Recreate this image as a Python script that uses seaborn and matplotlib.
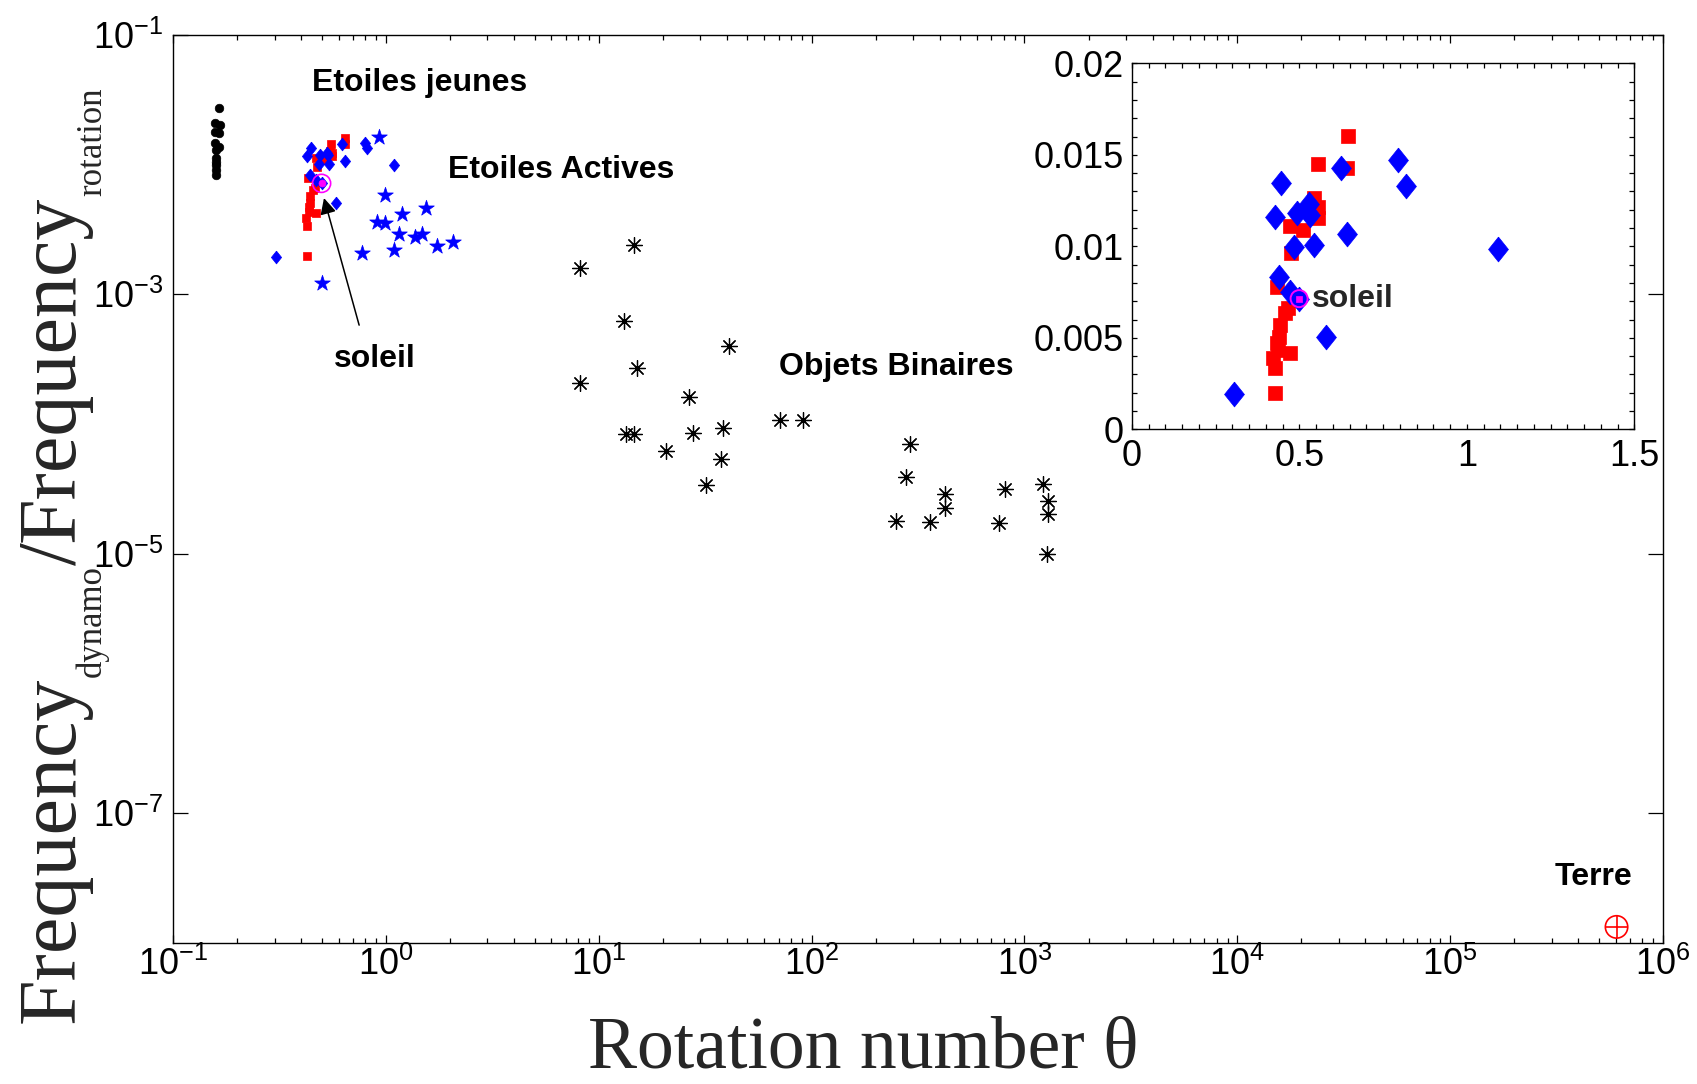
import matplotlib
matplotlib.use("Agg")
import matplotlib.pyplot as plt
import matplotlib.transforms as mtransforms
from matplotlib.ticker import FixedLocator, FixedFormatter, LogLocator, NullLocator, NullFormatter, MultipleLocator
import seaborn as sns

# ---------------------------------------------------------------- data
# Etoiles jeunes (black dots)
jeunes_theta = [0.165, 0.158, 0.166, 0.158, 0.165, 0.158, 0.164, 0.159,
                0.159, 0.159, 0.159, 0.159, 0.159]
jeunes_ratio = [0.0270, 0.0207, 0.0201, 0.0178, 0.0173, 0.0145, 0.0137, 0.0129,
                0.0111, 0.0105, 0.00988, 0.00904, 0.00827]

# Etoiles actives, first sample (red squares)
carres_theta = [0.427, 0.427, 0.422, 0.472, 0.437, 0.434, 0.440, 0.442, 0.457, 0.467,
                0.432, 0.475, 0.472, 0.512, 0.556, 0.556, 0.544, 0.555, 0.641, 0.646]
carres_ratio = [0.00197, 0.00333, 0.00388, 0.00419, 0.00433, 0.00470, 0.00506, 0.00570,
                0.00634, 0.00661, 0.00779, 0.00962, 0.01111, 0.01089, 0.01153, 0.01217,
                0.01266, 0.01448, 0.01430, 0.01604]

# Etoiles actives, second sample (blue diamonds)
losanges_theta = [0.306, 0.427, 0.445, 0.439, 0.472, 0.484, 0.492, 0.529, 0.532, 0.543,
                  0.580, 0.623, 0.643, 0.795, 0.818, 1.093, 0.499]
losanges_ratio = [0.00195, 0.01162, 0.01344, 0.00834, 0.00752, 0.00998, 0.01180, 0.01231,
                  0.01171, 0.01007, 0.00506, 0.01426, 0.01066, 0.01472, 0.01330, 0.00985,
                  0.00714]

# Etoiles actives, third sample (blue stars)
etoiles_theta = [0.927, 0.996, 1.193, 1.536, 0.904, 0.989, 1.151, 1.368, 1.481, 1.730,
                 2.07, 1.094, 0.769, 0.499]
etoiles_ratio = [0.01633, 0.00580, 0.00411, 0.00458, 0.00357, 0.00355, 0.00290, 0.00277,
                 0.00289, 0.00236, 0.00253, 0.00218, 0.00206, 0.00122]

# Objets binaires (black asterisks)
binaires_theta = [14.6, 8.15, 13.1, 40.8, 15.1, 8.21, 26.5, 70.9, 91.3, 13.4, 14.6, 27.8,
                  38.4, 20.6, 37.4, 31.8,
                  289, 279, 423, 423, 250, 359, 814, 757, 1222, 1291, 1291, 1277]
binaires_ratio = [2.39e-3, 1.60e-3, 6.22e-4, 3.97e-4, 2.70e-4, 2.07e-4, 1.61e-4, 1.08e-4,
                  1.08e-4, 8.34e-5, 8.34e-5, 8.53e-5, 9.23e-5, 6.19e-5, 5.32e-5, 3.41e-5,
                  7.06e-5, 3.90e-5, 2.87e-5, 2.26e-5, 1.79e-5, 1.75e-5, 3.14e-5, 1.72e-5,
                  3.47e-5, 2.55e-5, 2.04e-5, 1.00e-5]

# Soleil and Terre
soleil_theta = [0.499]
soleil_ratio = [0.00714]
terre_theta = [6.05e5]
terre_ratio = [1.33e-8]

# Axis ticks
x_ticks = [1e-1, 1e0, 1e1, 1e2, 1e3, 1e4, 1e5, 1e6]
x_ticklabels = [r"$10^{-1}$", r"$10^{0}$", r"$10^{1}$", r"$10^{2}$", r"$10^{3}$",
                r"$10^{4}$", r"$10^{5}$", r"$10^{6}$"]
y_ticks = [1e-7, 1e-5, 1e-3, 1e-1]
y_ticklabels = [r"$10^{-7}$", r"$10^{-5}$", r"$10^{-3}$", r"$10^{-1}$"]
inset_x_ticks = [0, 0.5, 1, 1.5]
inset_x_ticklabels = ["0", "0.5", "1", "1.5"]
inset_y_ticks = [0, 0.005, 0.01, 0.015, 0.02]
inset_y_ticklabels = ["0", "0.005", "0.01", "0.015", "0.02"]

# ---------------------------------------------------------------- style
sns.set_style("ticks")
plt.rcParams["font.family"] = ["Liberation Sans", "DejaVu Sans"]
plt.rcParams["mathtext.fontset"] = "custom"
plt.rcParams["mathtext.rm"] = "Liberation Sans"
plt.rcParams["mathtext.it"] = "Liberation Sans:italic"
plt.rcParams["mathtext.bf"] = "Liberation Sans:bold"

W, H = 1697, 1084
fig = plt.figure(figsize=(W / 100, H / 100), dpi=100)
fig.patch.set_facecolor("white")

ax = fig.add_axes([173 / W, 1 - 943 / H, (1663 - 173) / W, (943 - 34.6) / H])
ax.set_xscale("log")
ax.set_yscale("log")

DIAMOND = [(0, 1), (0.8, 0), (0, -1), (-0.8, 0), (0, 1)]
TICK_FS = 26
LABEL_FS = 23

# ---------------------------------------------------------------- main axes
sns.scatterplot(x=jeunes_theta, y=jeunes_ratio, marker="o", s=38, color="black",
                edgecolor="black", linewidth=0.5, ax=ax)
sns.scatterplot(x=binaires_theta, y=binaires_ratio, marker=(8, 2, 0), s=130,
                color="black", linewidth=0.9, ax=ax)
sns.scatterplot(x=carres_theta, y=carres_ratio, marker="s", s=34, color="red",
                edgecolor="red", linewidth=0.5, ax=ax)
sns.scatterplot(x=losanges_theta, y=losanges_ratio, marker=DIAMOND, s=85, color="blue",
                edgecolor="blue", linewidth=0.5, ax=ax)
sns.scatterplot(x=etoiles_theta, y=etoiles_ratio, marker="*", s=140, color="blue",
                edgecolor="blue", linewidth=0.5, ax=ax)
sns.scatterplot(x=soleil_theta, y=soleil_ratio, marker="o", s=170, facecolor="none",
                edgecolor="magenta", linewidth=1.2, ax=ax)
sns.scatterplot(x=soleil_theta, y=soleil_ratio, marker="o", s=25, color="magenta",
                edgecolor="magenta", linewidth=0.5, ax=ax)
sns.scatterplot(x=terre_theta, y=terre_ratio, marker="o", s=260, facecolor="none",
                edgecolor="red", linewidth=1.2, ax=ax)
sns.scatterplot(x=terre_theta, y=terre_ratio, marker="+", s=260, color="red",
                linewidth=1.2, ax=ax)

ax.set_xlim(1e-1, 1e6)
ax.set_ylim(1e-8, 1e-1)
ax.xaxis.set_major_locator(FixedLocator(x_ticks))
ax.xaxis.set_major_formatter(FixedFormatter(x_ticklabels))
ax.xaxis.set_minor_locator(LogLocator(base=10, subs=range(2, 10), numticks=20))
ax.xaxis.set_minor_formatter(NullFormatter())
ax.yaxis.set_major_locator(FixedLocator(y_ticks))
ax.yaxis.set_major_formatter(FixedFormatter(y_ticklabels))
ax.yaxis.set_minor_locator(NullLocator())
ax.tick_params(which="both", direction="in", top=True, right=True, width=0.9,
               colors="black", labelsize=TICK_FS)
ax.tick_params(axis="x", which="major", length=6, pad=3)
ax.tick_params(axis="x", which="minor", length=3.5)
ax.tick_params(axis="y", which="major", length=11, pad=7)
for sp in ax.spines.values():
    sp.set_color("black")
    sp.set_linewidth(1.0)
ax.set_xlabel("")
ax.set_ylabel("")

bold = dict(fontsize=LABEL_FS, fontweight="bold", color="black", ha="center", va="center")
ax.text(1.445, 0.0422, "Etoiles jeunes", **bold)
ax.text(6.64, 0.00903, "Etoiles Actives", **bold)
ax.text(251, 2.74e-4, "Objets Binaires", **bold)
ax.text(4.72e5, 3.2e-8, "Terre", **bold)
ax.annotate("", xy=(0.512, 5.5e-3), xytext=(0.749, 5.77e-4),
            arrowprops=dict(arrowstyle="-|>", color="black", lw=1.1, mutation_scale=24,
                            shrinkA=0, shrinkB=0))
ax.text(0.883, 3.14e-4, "soleil", **bold)

# ---------------------------------------------------------------- inset
ins = fig.add_axes([1132 / W, 1 - 429.3 / H, (1634.3 - 1132) / W, (429.3 - 63.3) / H])
ins.set_facecolor("white")
sns.scatterplot(x=carres_theta, y=carres_ratio, marker="s", s=100, color="red",
                edgecolor="red", linewidth=0.5, ax=ins)
sns.scatterplot(x=losanges_theta, y=losanges_ratio, marker=DIAMOND, s=320, color="blue",
                edgecolor="blue", linewidth=0.5, ax=ins)
sns.scatterplot(x=soleil_theta, y=soleil_ratio, marker="o", s=150, facecolor="none",
                edgecolor="magenta", linewidth=1.4, ax=ins)
sns.scatterplot(x=soleil_theta, y=soleil_ratio, marker="s", s=22, color="magenta",
                edgecolor="magenta", linewidth=0.5, ax=ins)
ins.text(0.537, 0.00714, "soleil", fontsize=LABEL_FS, fontweight="bold", ha="left",
         va="center")
ins.set_xlim(0, 1.5)
ins.set_ylim(0, 0.02)
ins.xaxis.set_major_locator(FixedLocator(inset_x_ticks))
ins.xaxis.set_major_formatter(FixedFormatter(inset_x_ticklabels))
ins.xaxis.set_minor_locator(MultipleLocator(0.05))
ins.yaxis.set_major_locator(FixedLocator(inset_y_ticks))
ins.yaxis.set_major_formatter(FixedFormatter(inset_y_ticklabels))
ins.yaxis.set_minor_locator(MultipleLocator(0.001))
ins.tick_params(which="both", direction="in", top=True, right=True, length=3.5,
                width=0.9, colors="black", labelsize=TICK_FS)
ins.tick_params(axis="x", pad=7)
ins.tick_params(axis="y", pad=6)
for sp in ins.spines.values():
    sp.set_color("black")
    sp.set_linewidth(1.0)
ins.set_xlabel("")
ins.set_ylabel("")

# ---------------------------------------------------------------- axis titles
serif = ["Liberation Serif", "DejaVu Serif"]
fig.text(863 / W, 16 / H, "Rotation number \u03b8", family=serif, fontsize=53,
         ha="center", va="baseline")

# vertical title built from pieces: main text and lowered small subscripts
px = mtransforms.IdentityTransform()
renderer = fig.canvas.get_renderer()
pieces = [("Frequency", 59, 0), ("dynamo", 25, 27), ("/", 59, 0),
          ("Frequency", 59, 0), ("rotation", 25, 27)]
y_pos = H - 1023
for txt, size, drop in pieces:
    t = fig.text(74 + drop, y_pos, txt, family=serif, fontsize=size, rotation=90,
                 rotation_mode="anchor", ha="left", va="baseline", transform=px)
    y_pos += t.get_window_extent(renderer).height

fig.savefig("out.png", dpi=100, facecolor="white")
